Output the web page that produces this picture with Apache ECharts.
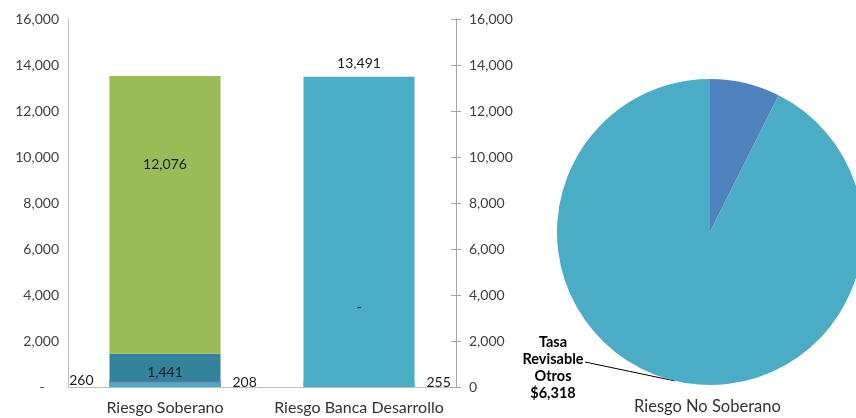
<!DOCTYPE html>
<html><head><meta charset="utf-8">
<script src="https://cdn.jsdelivr.net/npm/echarts@6/dist/echarts.min.js"></script>
<style>html,body{margin:0;padding:0;background:#fff}#c{width:856px;height:418px}</style>
</head><body><div id="c"></div>
<script>
const categories = ['Riesgo Soberano', 'Riesgo Banca Desarrollo'];
const yTicks = [0, 2000, 4000, 6000, 8000, 10000, 12000, 14000, 16000];
const tasaBase = [208, 255];        // light blue bottom segment
const tasaRevisable = [260, null];   // thin purple segment
const tasaTeal = [1441, null];       // dark teal
const tasaVerde = [12076, 0];        // green
const bancaDesarrollo = [null, 13491];
const pieNames = ['Otros', 'Tasa Revisable Otros'];
const pieValues = [505, 6318];
const pieTitle = 'Riesgo No Soberano';

const FONT = 'Lato';
const fmt = v => v.toLocaleString('en-US');
const chart = echarts.init(document.getElementById('c'), null, {renderer: 'canvas'});

const axisLbl = {fontFamily: FONT, fontSize: 14, color: '#404040'};
const option = {
  animation: false,
  textStyle: {fontFamily: FONT},
  title: {text: pieTitle, left: 629, top: 393, textStyle: {fontFamily: FONT, fontSize: 16.5, fontWeight: 'normal', color: '#333'}},
  grid: {left: 68, right: 400, top: 19, bottom: 31},
  xAxis: {
    type: 'category', data: categories,
    axisLine: {show: true, lineStyle: {color: '#bfbfbf'}},
    axisTick: {show: false},
    axisLabel: {interval: 0, fontFamily: FONT, fontSize: 16, color: '#333', margin: 13}
  },
  yAxis: [
    {type: 'value', min: 0, max: 16000, interval: 2000, position: 'left',
     axisLine: {show: true, lineStyle: {color: '#bfbfbf'}}, axisTick: {show: false}, splitLine: {show: false},
     axisLabel: Object.assign({}, axisLbl, {margin: 9, formatter: v => v === 0 ? '-' : fmt(v)}),
     },
    {type: 'value', min: 0, max: 16000, interval: 2000, position: 'right',
     axisLine: {show: true, lineStyle: {color: '#a6a6a6'}}, axisTick: {show: true, length: 5, lineStyle: {color: '#a6a6a6'}}, splitLine: {show: false},
     axisLabel: Object.assign({}, axisLbl, {margin: 13, formatter: v => fmt(v)})},
    {type: 'value', min: 0, max: 16000, interval: 2000, position: 'right',
     axisLine: {show: false}, axisTick: {show: true, inside: true, length: 5, lineStyle: {color: '#a6a6a6'}}, splitLine: {show: false},
     axisLabel: {show: false}}
  ],
  series: [
    {type: 'bar', name: 'teal', stack: 's', barWidth: 111, data: tasaTeal,
     itemStyle: {color: '#31849B'},
     label: {show: true, position: 'inside', offset: [0, 2], color: '#1a1a1a', fontFamily: FONT, fontSize: 14, formatter: p => fmt(p.value)}},
    {type: 'bar', name: 'verde', stack: 's', barWidth: 111,
     data: tasaVerde.map((v, i) => ({value: v, label: i === 0 ? {offset: [0, -50]} : {offset: [0, -80]}})),
     itemStyle: {color: '#9BBB59'},
     label: {show: true, position: 'inside', color: '#1a1a1a', fontFamily: FONT, fontSize: 14, formatter: p => p.value === 0 ? '-' : fmt(p.value)}},
    {type: 'bar', name: 'banca', barWidth: 111, barGap: '-100%', data: bancaDesarrollo,
     itemStyle: {color: '#4BACC6'},
     label: {show: true, position: 'top', distance: 6, color: '#1a1a1a', fontFamily: FONT, fontSize: 14, formatter: p => fmt(p.value)}},
    {type: 'bar', name: 'revisable', barWidth: 111, barGap: '-100%', data: tasaRevisable,
     itemStyle: {color: '#8064A2'},
     label: {show: true, position: 'left', distance: 16, offset: [0, -4], color: '#1a1a1a', fontFamily: FONT, fontSize: 14, formatter: p => fmt(p.value)}},
    {type: 'bar', name: 'base', barWidth: 111, barGap: '-100%', data: tasaBase,
     itemStyle: {color: '#4BACC6'},
     label: {show: true, position: 'right', distance: 12, offset: [0, -2], color: '#1a1a1a', fontFamily: FONT, fontSize: 14, formatter: p => fmt(p.value)}},
    {type: 'pie', center: [710, 232], radius: 153, startAngle: 90, clockwise: true,
     data: pieValues.map((v, i) => ({name: pieNames[i], value: v,
       itemStyle: {color: i === 0 ? '#4F81BD' : '#4BACC6'},
       label: {show: i === 1}, labelLine: {show: i === 1}})),
     label: {position: 'outside', fontFamily: FONT, fontSize: 14.5, fontWeight: 'bold', color: '#000', lineHeight: 17, align: 'center',
       formatter: p => 'Tasa\nRevisable\nOtros\n$' + fmt(p.value)},
     labelLine: {length: 2, length2: 75, smooth: false, lineStyle: {color: '#000', width: 1}},
     labelLayout: function (params) {
       const out = {x: 553, y: 368, align: 'center', verticalAlign: 'middle'};
       const pts = params.labelLinePoints;
       if (pts && pts.length) {
         const a = pts[0];
         const end = [585, 362];
         out.labelLinePoints = [[a[0], a[1]], [(a[0] + end[0]) / 2, (a[1] + end[1]) / 2], end];
       }
       return out;
     },
     emphasis: {disabled: true}}
  ]
};
option.yAxis[0].axisLabel.formatter = v => v === 0 ? '-    ' : fmt(v);
chart.setOption(option);
</script></body></html>
